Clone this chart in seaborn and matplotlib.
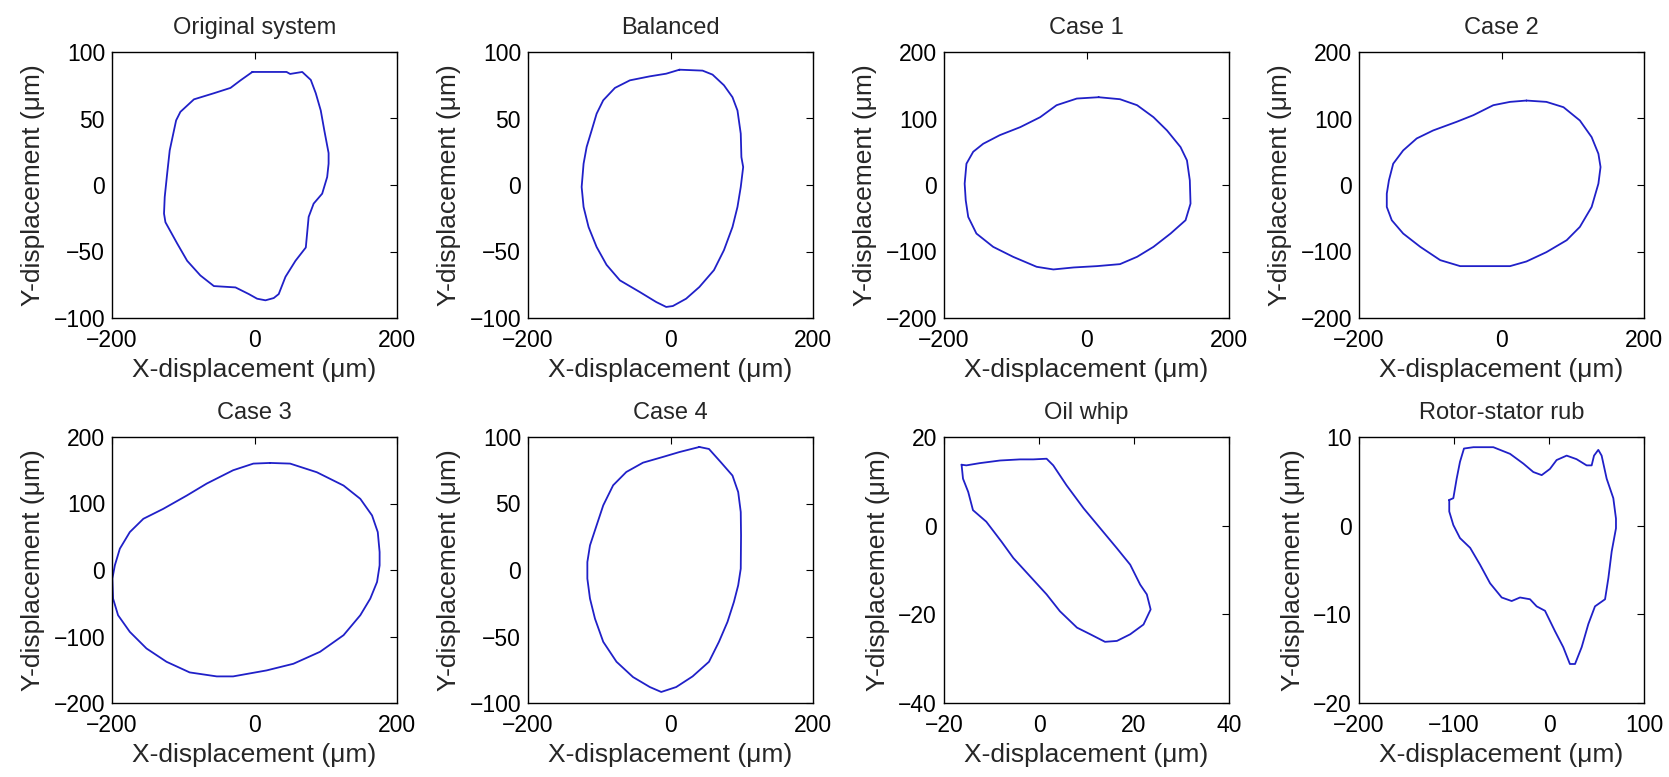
import matplotlib
matplotlib.use("Agg")
import matplotlib.pyplot as plt
import seaborn as sns
import pandas as pd

# ---------------- data ----------------
titles = ["Original system", "Balanced", "Case 1", "Case 2",
          "Case 3", "Case 4", "Oil whip", "Rotor-stator rub"]

orig_x = [-3, 20, 45, 50, 67, 79, 86, 93, 98, 104, 104, 102, 95, 83, 76, 72, 57.5, 43.5, 34, 27,
          15.4, 3.7, -8, -26.7, -57, -76, -94.5, -108.5, -125, -127, -126, -122.6, -119, -114,
          -110, -104, -85, -57, -33.7, -19.6, -3]
orig_y = [85, 85, 85, 83.5, 85, 79, 69, 56, 41, 24, 16, 6, -6.5, -14, -24, -47, -57, -69, -82, -85,
          -86.7, -85.5, -82, -77, -76, -68, -57, -44, -28, -21.5, -9, 8.5, 26, 38.6,
          48.6, 55, 64.4, 69, 73, 78.7, 85]

bal_x = [12.6, 45, 59, 75, 87, 94, 98.6, 99.5, 102, 98.6, 94, 87, 75, 61, 40.5, 21.9, 3.3, -6,
         -20, -43, -71, -89.8, -103.7, -115, -122, -124.7, -122, -117.7, -110.7, -103.7, -94.4,
         -78, -57, -29, -6, 12.6]
bal_y = [86.7, 86, 83, 75, 66, 56, 38.6, 21, 13.5, -1.5, -16.5, -31.6, -49, -64, -76.7, -85.5,
         -91, -91.7, -88, -80.5, -71.7, -60, -46.6, -31.6, -16.5, -1.5, 16, 28.6, 41, 53.6, 63.7,
         73, 78.7, 81.7, 83.7, 86.7]

c1_x = [17, 47, 71, 94, 113, 132, 141, 145, 146, 139, 118, 94, 71, 47, 14.6, -18, -46.5, -70,
        -103, -131, -154.5, -166, -169.5, -171, -168.5, -159, -145, -121.6, -93, -65, -42,
        -13.6, 17]
c1_y = [132, 129, 120, 102, 82, 57, 37, 7, -28, -53, -73, -93, -108, -119, -122, -124, -127,
        -123, -108, -93, -73, -48, -23, 2, 32, 50, 62, 75, 87, 102, 120, 130, 132]

c2_x = [35, 63, 87, 110, 126.5, 136, 139, 136, 126.5, 110, 91.5, 63, 35, 12, -30, -58, -86,
        -114, -138, -154, -161, -161, -158, -152, -138, -119, -96, -63, -39.5, -11.5, 12, 35]
c2_y = [127, 125, 117, 97, 72, 47, 27, 2, -33, -63, -83, -101, -115, -122, -122, -122, -113,
        -93, -73, -53, -33, -13, 7, 32, 52, 70, 82, 95, 105, 120, 125, 127]

c3_x = [22, 50, 87.5, 125, 148.5, 165, 173, 175.6, 175.6, 172, 162.5, 148.5, 125, 92, 54.6, 17,
        -30, -53, -91, -123.5, -151.6, -175, -191.5, -198.5, -199.5, -196, -189, -175, -156,
        -128, -95, -67, -30, -1.6, 22]
c3_y = [161, 160, 147, 127, 107, 82, 57, 27, 7, -18, -43, -68, -98, -123, -141, -151, -160,
        -160, -154, -138, -118, -93, -68, -43, -13, 7, 32, 57, 77, 92, 112, 130, 150, 160, 161]

c4_x = [40.5, 54, 70.7, 87, 95, 98.6, 99, 98.6, 95, 89, 80, 68, 54, 31, 8, -13, -29, -52.6,
        -75.8, -94.4, -106, -113, -116.7, -116.7, -113, -103.7, -94.4, -80.5, -62, -38.6,
        -10.7, 12.6, 40.5]
c4_y = [92.5, 91, 81, 71, 58.6, 43.6, 26, 1, -11.5, -24, -39, -54, -69, -80, -88, -91.7, -88,
        -80.5, -69, -54, -36.6, -21.5, -6.5, 6, 18.5, 33.6, 48.6, 63.7, 73.7, 80.7, 85, 88.7,
        92.5]

whip_x = [-16.3, -15.3, -12.5, -8.2, -4, -1.2, 1.6, 3, 5.8, 9.4, 12.9, 16.4, 19.2, 21.3, 22.7,
          23.5, 22, 19.2, 16.4, 13.9, 10.8, 8, 4.4, 1.6, -1.9, -5.4, -7.9, -11.1, -13.9, -14.9,
          -16, -16.3]
whip_y = [13.75, 13.6, 14.1, 14.7, 14.95, 14.95, 15.1, 13.6, 9.1, 3.9, -0.6, -5.1, -8.8, -13.3,
          -15.5, -18.9, -22.3, -24.5, -26, -26.2, -24.5, -23, -19.3, -15.5, -11.4, -7.3, -3.6,
          0.9, 3.5, 7.6, 10.6, 13.75]

rub_x = [-105, -105, -100.7, -93.7, -83, -72.6, -62, -49.8, -39.3, -30.5, -20, -13, -4.2, 6.3,
         15, 22, 27.4, 34.4, 41.4, 48.4, 59, 62.5, 66, 70.5, 70.5, 67.7, 60.7, 55.4, 51.9, 47.4,
         44.9, 39.6, 29, 18.6, 8, 1, -7.7, -16.5, -27, -41, -58.6, -79.6, -89.5, -93.7, -97.2,
         -100.7, -105]
rub_y = [2.9, 1.6, 0.07, -1.4, -2.5, -4.4, -6.5, -8.1, -8.5, -8.1, -8.3, -9.1, -9.6, -11.9,
         -13.7, -15.6, -15.6, -13.7, -11.1, -9.1, -8.3, -5.9, -2.9, -0.3, 0.8, 3.1, 5.3, 7.9,
         8.55, 7.9, 6.8, 6.8, 7.5, 7.9, 7.4, 6.4, 5.7, 6.05, 7, 8.1, 8.85, 8.85, 8.7, 7.2, 5.3,
         3.1, 2.9]

xlims = [(-200, 200)] * 6 + [(-20, 40), (-200, 100)]
ylims = [(-100, 100), (-100, 100), (-200, 200), (-200, 200), (-200, 200), (-100, 100),
         (-40, 20), (-20, 10)]
xticks = [[-200, 0, 200]] * 6 + [[-20, 0, 20, 40], [-200, -100, 0, 100]]
yticks = [[-100, -50, 0, 50, 100], [-100, -50, 0, 50, 100],
          [-200, -100, 0, 100, 200], [-200, -100, 0, 100, 200], [-200, -100, 0, 100, 200],
          [-100, -50, 0, 50, 100], [-40, -20, 0, 20], [-20, -10, 0, 10]]

series = [(orig_x, orig_y), (bal_x, bal_y), (c1_x, c1_y), (c2_x, c2_y),
          (c3_x, c3_y), (c4_x, c4_y), (whip_x, whip_y), (rub_x, rub_y)]

# ---------------- plotting ----------------
sns.set_theme(style="white")
plt.rcParams["font.family"] = ["Liberation Sans", "DejaVu Sans"]

W, H = 1669, 777
fig = plt.figure(figsize=(W / 100, H / 100), dpi=100)

col_left = [112, 528, 944, 1359]
row_top = [52, 437]
aw, ah = 285, 266

line_color = "#2020c8"

for i, (xs, ys) in enumerate(series):
    r, c = divmod(i, 4)
    ax = fig.add_axes([col_left[c] / W, 1 - (row_top[r] + ah) / H, aw / W, ah / H])
    df = pd.DataFrame({"x": xs, "y": ys})
    sns.lineplot(data=df, x="x", y="y", sort=False, estimator=None, ax=ax,
                 color=line_color, linewidth=1.3)
    ax.set_xlim(*xlims[i])
    ax.set_ylim(*ylims[i])
    ax.set_xticks(xticks[i])
    ax.set_yticks(yticks[i])
    ax.tick_params(direction="in", top=True, right=True, length=5, width=0.8,
                   labelsize=16.5, colors="black")
    ax.tick_params(axis="x", pad=8)
    ax.tick_params(axis="y", pad=5)
    for s in ax.spines.values():
        s.set_color("black")
        s.set_linewidth(1.0)
        s.set_visible(True)
    ax.set_xlabel("X-displacement (μm)", fontsize=19, labelpad=4)
    ax.set_ylabel("Y-displacement (μm)", fontsize=19, labelpad=6)
    ax.set_title(titles[i], fontsize=17, pad=13)

fig.savefig("out.png", dpi=100)
